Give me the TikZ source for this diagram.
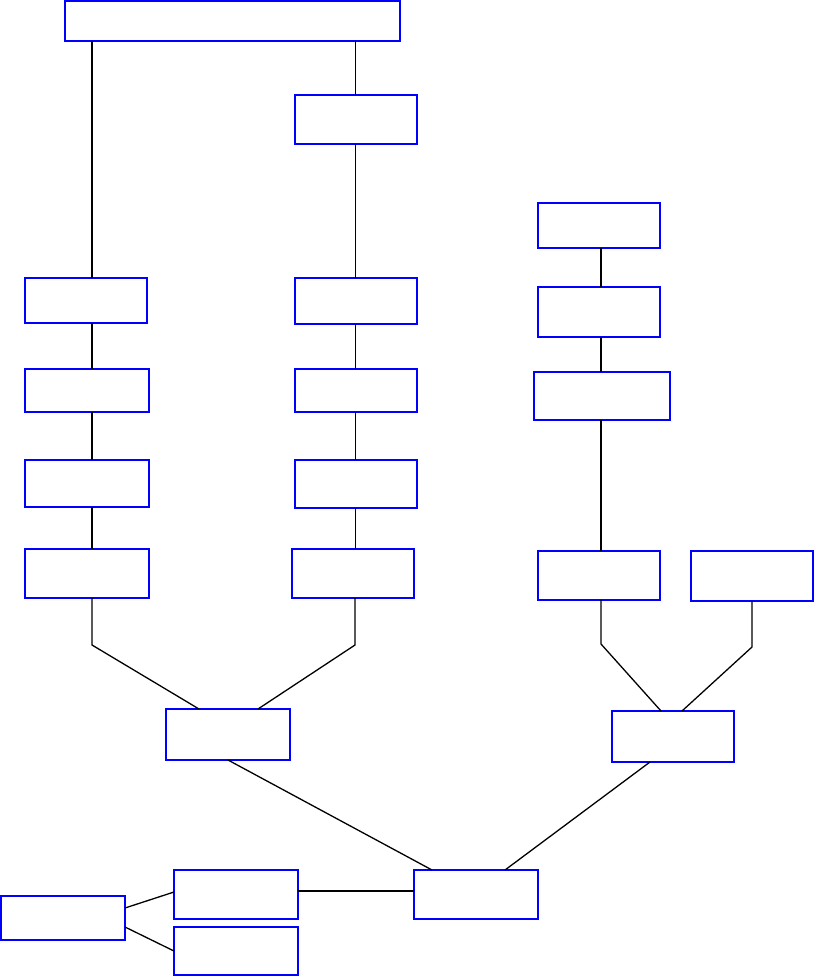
\documentclass[tikz,border=0pt]{standalone}
\usetikzlibrary{calc}
\begin{document}
\begin{tikzpicture}[x=1pt,y=-1pt,
  box/.style={draw=blue,line width=1.3pt,inner sep=0pt,outer sep=0pt,fill=white},
  link/.style={draw=black,line width=1.3pt},
  thinlink/.style={draw=black,line width=0.8pt}]
\useasboundingbox (0,0) rectangle (815,977);
% boxes
\node[box,minimum width=335pt,minimum height=40pt] (top) at (232.5,21) {};
\node[box,minimum width=122pt,minimum height=49pt] (b2) at (356,119.5) {};
\node[box,minimum width=122pt,minimum height=45pt] (r1) at (599,225.5) {};
\node[box,minimum width=122pt,minimum height=50pt] (r2) at (599,312) {};
\node[box,minimum width=136pt,minimum height=48pt] (r3) at (602,396) {};
\node[box,minimum width=122pt,minimum height=45pt] (l1) at (86,300.5) {};
\node[box,minimum width=122pt,minimum height=46pt] (m1) at (356,301) {};
\node[box,minimum width=124pt,minimum height=43pt] (l2) at (87,390.5) {};
\node[box,minimum width=122pt,minimum height=43pt] (m2) at (356,390.5) {};
\node[box,minimum width=124pt,minimum height=47pt] (l3) at (87,483.5) {};
\node[box,minimum width=122pt,minimum height=48pt] (m3) at (356,484) {};
\node[box,minimum width=124pt,minimum height=49pt] (l4) at (87,573.5) {};
\node[box,minimum width=122pt,minimum height=49pt] (m4) at (353,573.5) {};
\node[box,minimum width=122pt,minimum height=49pt] (r4) at (599,575.5) {};
\node[box,minimum width=122pt,minimum height=50pt] (r5) at (752,576) {};
\node[box,minimum width=124pt,minimum height=51pt] (c1) at (228,734.5) {};
\node[box,minimum width=122pt,minimum height=51pt] (c2) at (673,736.5) {};
\node[box,minimum width=124pt,minimum height=49pt] (bot) at (476,894.5) {};
\node[box,minimum width=124pt,minimum height=49pt] (bl1) at (236,894.5) {};
\node[box,minimum width=124pt,minimum height=48pt] (bl2) at (236,951) {};
\node[box,minimum width=124pt,minimum height=44pt] (bll) at (63,918) {};
% left column
\draw[link] (top.south -| 92,0) -- (l1.north -| 92,0);
\draw[link] (l1.south -| 92,0) -- (l2.north -| 92,0);
\draw[link] (l2.south -| 92,0) -- (l3.north -| 92,0);
\draw[link] (l3.south -| 92,0) -- (l4.north -| 92,0);
\draw[link] (l4.south -| 92,0) -- (92,645) -- (c1.north -| 199,0);
% middle column
\draw[thinlink] (top.south -| 355,0) -- (b2.north -| 355,0);
\draw[thinlink] (b2.south -| 355,0) -- (m1.north -| 355,0);
\draw[thinlink] (m1.south -| 355,0) -- (m2.north -| 355,0);
\draw[thinlink] (m2.south -| 355,0) -- (m3.north -| 355,0);
\draw[thinlink] (m3.south -| 355,0) -- (m4.north -| 355,0);
\draw[link] (m4.south -| 355,0) -- (355,645) -- (c1.north -| 258,0);
% right column
\draw[link] (r1.south -| 601,0) -- (r2.north -| 601,0);
\draw[link] (r2.south -| 601,0) -- (r3.north -| 601,0);
\draw[link] (r3.south -| 601,0) -- (r4.north -| 601,0);
\draw[link] (r4.south -| 601,0) -- (601,644) -- (c2.north -| 661,0);
\draw[link] (r5.south -| 752,0) -- (752,647) -- (c2.north -| 682,0);
% lower
\draw[link] (c1.south) -- (bot.north -| 432,0);
\draw[link] (c2.south -| 650,0) -- (bot.north -| 505,0);
\draw[link] (bl1.east |- 0,891) -- (bot.west |- 0,891);
\draw[link] (bll.east |- 0,908) -- (bl1.west |- 0,892);
\draw[link] (bll.east |- 0,927) -- (bl2.west |- 0,951);
\end{tikzpicture}
\end{document}
